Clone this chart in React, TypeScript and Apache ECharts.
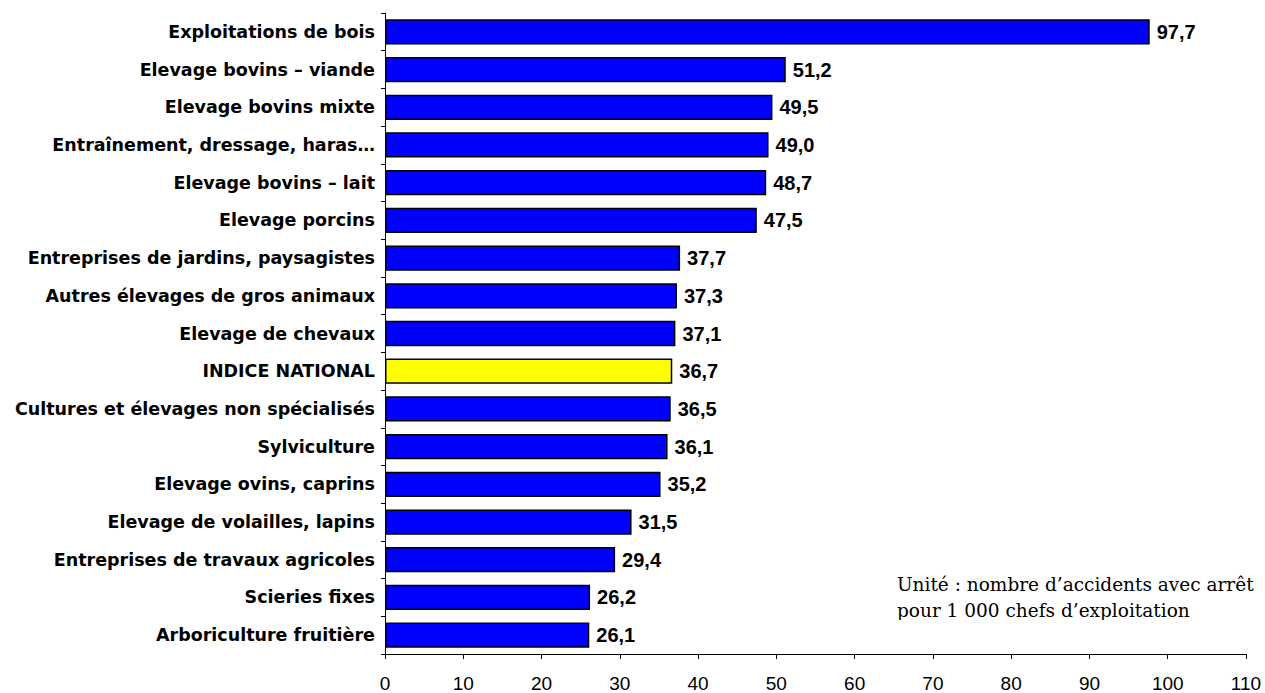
import React, { useEffect, useRef } from "react";
import * as echarts from "echarts";

const categories: string[] = [
  "Exploitations de bois",
  "Elevage bovins – viande",
  "Elevage bovins mixte",
  "Entraînement, dressage, haras…",
  "Elevage bovins – lait",
  "Elevage porcins",
  "Entreprises de jardins, paysagistes",
  "Autres élevages de gros animaux",
  "Elevage de chevaux",
  "INDICE NATIONAL",
  "Cultures et élevages non spécialisés",
  "Sylviculture",
  "Elevage ovins, caprins",
  "Elevage de volailles, lapins",
  "Entreprises de travaux agricoles",
  "Scieries fixes",
  "Arboriculture fruitière",
];

const values: number[] = [
  97.7, 51.2, 49.5, 49.0, 48.7, 47.5, 37.7, 37.3, 37.1, 36.7, 36.5, 36.1, 35.2,
  31.5, 29.4, 26.2, 26.1,
];

const highlightCategory = "INDICE NATIONAL";
const noteLines: string[] = [
  "Unité : nombre d’accidents avec arrêt",
  "pour 1 000 chefs d’exploitation",
];

export default function App() {
  const ref = useRef<HTMLDivElement>(null);

  useEffect(() => {
    if (!ref.current) return;
    const chart = echarts.init(ref.current, undefined, { renderer: "svg" });
    chart.setOption({
      animation: false,
      backgroundColor: "#ffffff",
      grid: { left: 385, right: 19, top: 13, bottom: 38, containLabel: false },
      xAxis: {
        type: "value",
        min: 0,
        max: 110,
        interval: 10,
        splitLine: { show: false },
        axisLine: { show: true, lineStyle: { color: "#000", width: 1 } },
        axisTick: { show: true, length: 5, lineStyle: { color: "#000" } },
        axisLabel: {
          color: "#000",
          fontFamily: "'Liberation Sans', Arial, sans-serif",
          fontSize: 19,
          margin: 20,
        },
      },
      yAxis: {
        type: "category",
        data: categories,
        inverse: true,
        axisLine: { show: true, lineStyle: { color: "#000", width: 1 } },
        axisTick: { show: true, length: 4, lineStyle: { color: "#000" } },
        axisLabel: {
          color: "#000",
          fontFamily: "'DejaVu Sans', sans-serif",
          fontWeight: "bold",
          fontSize: 17.5,
          margin: 10,
        },
      },
      series: [
        {
          type: "bar",
          data: values,
          barCategoryGap: "33%",
          itemStyle: {
            color: (p: any) => (p.name === highlightCategory ? "#ffff00" : "#0000ff"),
            borderColor: "#000",
            borderWidth: 1.5,
          },
          label: {
            show: true,
            position: "right",
            distance: 7,
            color: "#000",
            fontFamily: "'Liberation Sans', Arial, sans-serif",
            fontWeight: "bold",
            fontSize: 20,
            formatter: (p: any) => Number(p.value).toFixed(1).replace(".", ","),
          },
        },
      ],
      graphic: [
        {
          type: "text",
          left: 897,
          top: 571,
          z: 10,
          style: {
            text: noteLines.join("\n"),
            fill: "#000",
            font: "18.5px 'DejaVu Serif', 'Liberation Serif', serif",
            lineHeight: 26,
          },
        },
        {
          type: "rect",
          z: 11,
          shape: { x: 880, y: 620, width: 385, height: 30 },
          style: { fill: "#ffffff" },
        },
      ],
    });
    return () => chart.dispose();
  }, []);

  return (
    <div
      ref={ref}
      style={{ position: "fixed", left: 0, top: 0, width: 1265, height: 693 }}
    />
  );
}
